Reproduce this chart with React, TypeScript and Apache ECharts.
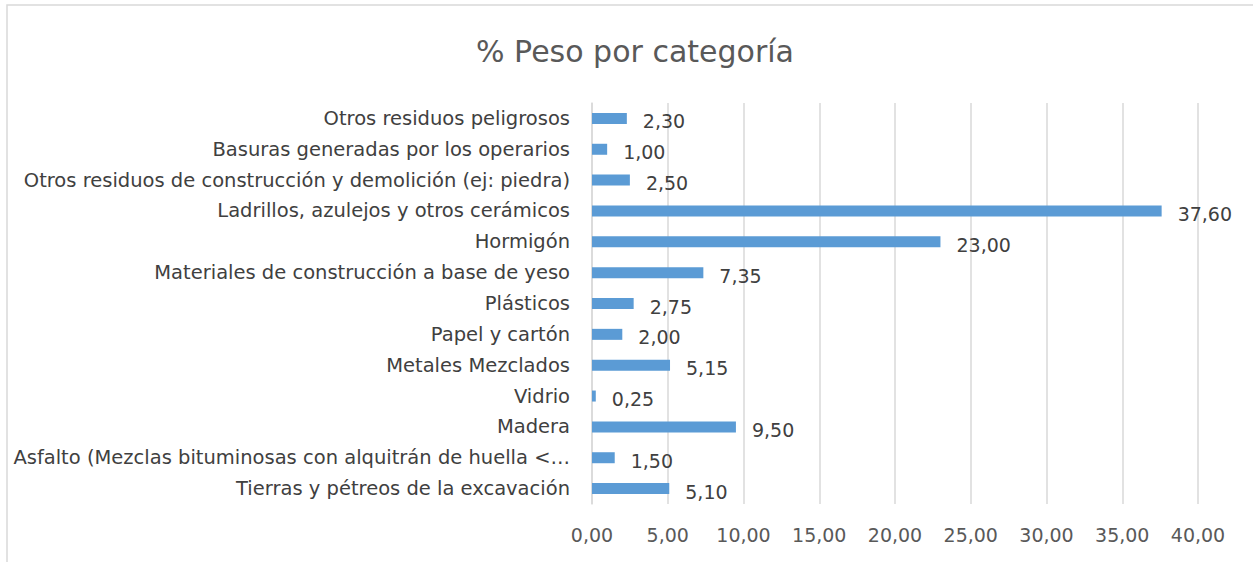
import React, { useEffect, useRef } from "react";
import * as echarts from "echarts";

const categories = [
  "Tierras y pétreos de la excavación",
  "Asfalto (Mezclas bituminosas con alquitrán de huella <…",
  "Madera",
  "Vidrio",
  "Metales Mezclados",
  "Papel y cartón",
  "Plásticos",
  "Materiales de construcción a base de yeso",
  "Hormigón",
  "Ladrillos, azulejos y otros cerámicos",
  "Otros residuos de construcción y demolición (ej: piedra)",
  "Basuras generadas por los operarios",
  "Otros residuos peligrosos",
];

const values = [5.1, 1.5, 9.5, 0.25, 5.15, 2.0, 2.75, 7.35, 23.0, 37.6, 2.5, 1.0, 2.3];

const titleText = "% Peso por categoría";
const fontFamily = "'DejaVu Sans', sans-serif";

const fmt = (v: number) => v.toFixed(2).replace(".", ",");

export default function App() {
  const ref = useRef<HTMLDivElement>(null);
  useEffect(() => {
    if (!ref.current) return;
    const chart = echarts.init(ref.current, null, { renderer: "svg" });
    chart.setOption({
      animation: false,
      backgroundColor: "#ffffff",
      textStyle: { fontFamily },
      title: {
        text: titleText,
        left: 630,
        textAlign: "center",
        top: 31,
        textStyle: { fontFamily, fontSize: 30, fontWeight: "normal", color: "#595959" },
      },
      graphic: [
        {
          type: "rect",
          shape: { x: 7, y: 5, width: 1300, height: 600 },
          style: { fill: "none", stroke: "#d9d9d9", lineWidth: 1.5 },
          silent: true,
        },
      ],
      grid: { left: 592, right: 55, top: 103, bottom: 58, containLabel: false },
      xAxis: {
        type: "value",
        min: 0,
        max: 40,
        interval: 5,
        axisLine: { show: false },
        axisTick: { show: false },
        splitLine: { show: true, lineStyle: { color: "#d9d9d9", width: 1.5 } },
        axisLabel: {
          formatter: (v: number) => fmt(v),
          fontFamily,
          fontSize: 19,
          color: "#595959",
          margin: 21,
        },
      },
      yAxis: {
        type: "category",
        data: categories,
        axisLine: { show: true, lineStyle: { color: "#d9d9d9", width: 1.5 } },
        axisTick: { show: false },
        axisLabel: { fontFamily, fontSize: 19.5, color: "#404040", margin: 22 },
      },
      series: [
        {
          type: "bar",
          data: values,
          barWidth: 11,
          itemStyle: { color: "#5b9bd5" },
          label: {
            show: true,
            position: "right",
            distance: 16,
            offset: [0, 3],
            formatter: (p: any) => fmt(p.value),
            fontFamily,
            fontSize: 19,
            color: "#404040",
          },
        },
      ],
    });
    return () => chart.dispose();
  }, []);
  return (
    <div
      ref={ref}
      style={{ position: "fixed", left: 0, top: 0, width: 1253, height: 562 }}
    />
  );
}
